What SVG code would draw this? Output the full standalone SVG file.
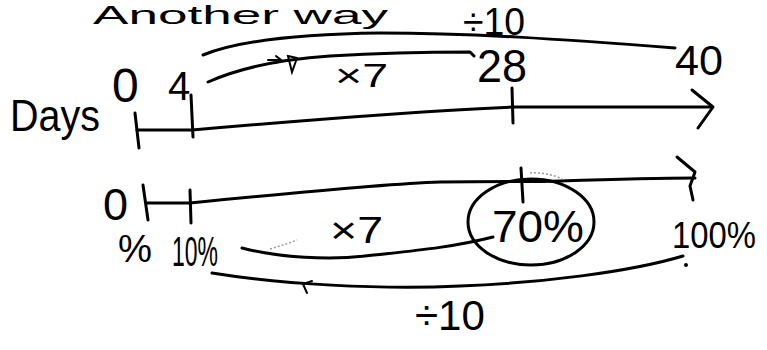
<svg xmlns="http://www.w3.org/2000/svg" width="767" height="350" viewBox="0 0 767 350">
<style>
  text { font-family: "Liberation Sans", "DejaVu Sans", sans-serif; fill: #000; }
  .ln { fill: none; stroke: #000; stroke-width: 3; stroke-linecap: round; stroke-linejoin: round; }
  .thin { fill: none; stroke: #000; stroke-width: 2; stroke-linecap: round; }
  .faint { fill: none; stroke: #999; stroke-width: 1.5; stroke-dasharray: 2 2; }
</style>
<rect width="767" height="350" fill="#fff"/>

<g id="title">
  <text x="93" y="24" font-size="26" textLength="295" lengthAdjust="spacingAndGlyphs">Another way</text>
</g>

<g id="connectors">
  <!-- top ÷10 arc from 4 to 40 -->
  <path class="ln" d="M203,55 C240,40 300,34 380,33 C470,33 560,39 675,48"/>
  <!-- top ×7 arc from 4 to 28 -->
  <path class="ln" d="M208,82 C235,70 270,60 330,56 C380,53 430,52 470,52 L474,56"/>
  <path class="thin" d="M268,60 L280,60 M276,56 L281,60 L276,63 M288,56 L297,58 L292,72 Z"/>
  <!-- top number line -->
  <path class="ln" d="M137,130 L192,130 C260,124 400,112 513,107 L712,107"/>
  <path class="ln" d="M692,90 L713,107 L698,128"/>
  <path class="ln" d="M135,113 L139,148"/>
  <path class="ln" d="M191,95 L193,137"/>
  <path class="ln" d="M512,88 L513,123"/>
  <!-- bottom number line -->
  <path class="ln" d="M146,203 L190,203 C260,196 380,184 440,182 C500,181 530,182 560,181 C620,179 660,178 695,178"/>
  <path class="ln" d="M677,157 L695,172 L690,186 L693,200"/>
  <path class="ln" d="M143,185 L148,220"/>
  <path class="ln" d="M190,190 L191,223"/>
  <path class="ln" d="M521,168 L523,202"/>
  <path class="faint" d="M530,173 C540,172 555,175 562,179"/>
  <!-- bottom ×7 arc from 10% to 70% -->
  <path class="ln" d="M242,248 C280,258 330,260 365,256 C410,251 450,248 493,237"/>
  <path class="faint" d="M270,249 C280,246 290,243 297,240"/>
  <!-- bottom ÷10 arc from 100% back to 10% -->
  <path class="ln" d="M212,273 C280,284 380,290 460,286 C540,283 630,272 683,256"/>
  <path class="thin" d="M312,281 L303,284 L307,293"/>
  <circle cx="686" cy="265" r="2"/>
</g>

<g id="days">
  <text x="10" y="131" font-size="44" textLength="90" lengthAdjust="spacingAndGlyphs">Days</text>
</g>
<g id="day0"><text x="112" y="102" font-size="48">0</text></g>
<g id="day4"><text x="168" y="100" font-size="40">4</text></g>
<g id="day28"><text x="477" y="82" font-size="47" textLength="50" lengthAdjust="spacingAndGlyphs">28</text></g>
<g id="day40"><text x="675" y="75" font-size="42" textLength="48" lengthAdjust="spacingAndGlyphs">40</text></g>
<g id="div10top"><text x="463" y="35" font-size="38" textLength="62" lengthAdjust="spacingAndGlyphs">÷10</text></g>
<g id="times7top"><text x="335" y="87" font-size="34" textLength="53" lengthAdjust="spacingAndGlyphs">×7</text></g>

<g id="pct0"><text x="103" y="220" font-size="45">0</text></g>
<g id="pctlabel"><text x="118" y="262" font-size="38" textLength="34" lengthAdjust="spacingAndGlyphs">%</text></g>
<g id="pct10"><text x="172" y="266" font-size="42" textLength="46" lengthAdjust="spacingAndGlyphs">10%</text></g>
<g id="times7bottom"><text x="330" y="243" font-size="36" textLength="53" lengthAdjust="spacingAndGlyphs">×7</text></g>
<g id="pct70">
  <ellipse class="ln" cx="531" cy="222" rx="63" ry="43"/>
  <text x="492" y="242" font-size="44" textLength="92" lengthAdjust="spacingAndGlyphs">70%</text>
</g>
<g id="pct100"><text x="672" y="248" font-size="36" textLength="84" lengthAdjust="spacingAndGlyphs">100%</text></g>
<g id="div10bottom"><text x="415" y="330" font-size="42" textLength="70" lengthAdjust="spacingAndGlyphs">÷10</text></g>
</svg>
